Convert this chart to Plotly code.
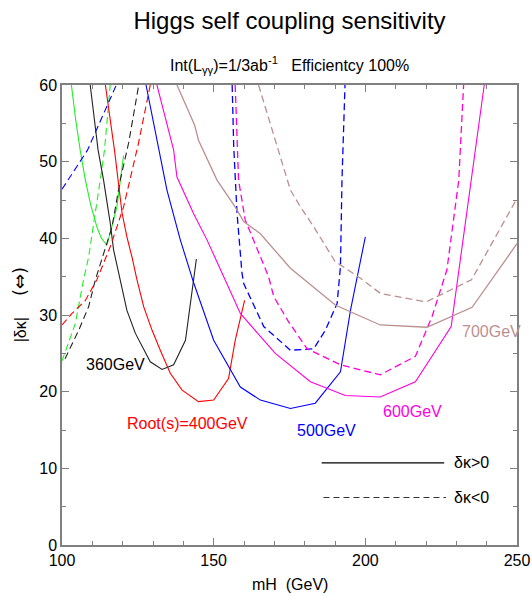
import plotly.graph_objects as go

# ---------------- data ----------------
# 300 GeV
mh_300_pos = [103.1, 104.5, 106.0, 107.7, 109.5, 111.5, 113.0, 114.8, 115.9, 118.1, 120.3]
dk_300_pos = [60.0, 55.5, 51.5, 47.6, 44.3, 41.5, 40.0, 39.1, 40.7, 44.1, 50.8]
mh_300_neg = [100.0, 104.4, 107.1, 108.8, 112.6, 114.0, 115.9]
dk_300_neg = [24.0, 28.9, 34.6, 37.6, 47.6, 51.5, 60.0]
# extra blue dashed branch at low mH
mh_blue_low = [100.0, 108.4, 117.9]
dk_blue_low = [46.4, 51.5, 60.0]
# 360 GeV
mh_360_pos = [109.3, 111.9, 113.7, 115.9, 117.0, 119.2, 121.4, 124.2, 126.5, 129.1, 133.0, 136.8, 140.7, 144.3]
dk_360_pos = [60.0, 51.5, 47.6, 42.0, 38.5, 34.6, 30.6, 27.6, 25.8, 23.9, 22.9, 23.5, 26.7, 37.3]
mh_360_neg = [101.0, 105.5, 108.8, 111.0, 116.5, 119.2, 122.0, 125.3]
dk_360_neg = [24.3, 28.0, 31.1, 34.6, 41.5, 47.6, 52.5, 60.0]
# 400 GeV
mh_400_pos = [114.3, 117.3, 119.8, 121.4, 123.1, 124.7, 127.0, 129.7, 132.4, 135.7, 139.6, 145.0, 150.0, 154.9, 157.1, 160.2]
dk_400_pos = [60.0, 51.5, 43.3, 40.2, 37.5, 34.6, 31.0, 28.0, 25.4, 22.4, 20.2, 18.7, 18.9, 21.7, 26.7, 31.9]
mh_400_neg = [100.0, 103.3, 107.7, 111.5, 116.0, 120.3, 125.1, 129.1]
dk_400_neg = [28.7, 30.2, 31.9, 34.6, 39.0, 44.1, 52.2, 60.0]
# 500 GeV
mh_500_pos = [127.7, 131.3, 134.6, 139.0, 143.4, 150.0, 158.8, 165.4, 175.3, 183.5, 191.8, 195.1, 200.0]
dk_500_pos = [60.0, 53.0, 46.3, 39.8, 34.2, 26.7, 20.6, 18.9, 17.8, 18.5, 22.6, 30.6, 40.2]
mh_500_neg = [156.1, 156.6, 157.7, 159.3, 159.9, 166.5, 175.3, 183.0, 186.8, 190.7, 191.8, 192.3, 193.3]
dk_500_neg = [60.0, 52.1, 43.3, 35.6, 34.1, 28.5, 25.4, 25.6, 28.0, 31.5, 36.3, 47.6, 60.0]
# 600 GeV
mh_600_pos = [131.3, 136.8, 137.9, 143.4, 147.8, 153.3, 158.8, 165.4, 170.3, 181.9, 193.4, 204.9, 216.5, 228.3, 239.2]
dk_600_pos = [60.0, 51.5, 48.0, 43.2, 39.8, 35.0, 30.2, 27.2, 25.0, 21.3, 19.5, 19.3, 21.3, 28.5, 60.0]
mh_600_neg = [157.1, 158.2, 160.4, 163.7, 168.1, 169.8, 174.7, 180.8, 191.8, 204.9, 216.5, 222.0, 226.9, 230.8, 232.4]
dk_600_neg = [60.0, 47.6, 42.4, 39.3, 35.0, 32.4, 29.1, 25.6, 23.5, 22.2, 24.6, 29.8, 35.9, 47.6, 60.0]
# 700 GeV
mh_700_pos = [137.9, 143.7, 145.0, 151.1, 157.1, 159.9, 165.4, 175.3, 190.1, 204.9, 220.3, 235.2, 250.0]
dk_700_pos = [60.0, 54.8, 52.8, 47.6, 44.1, 42.2, 40.6, 36.1, 31.3, 28.7, 28.4, 31.0, 39.3]
mh_700_neg = [164.8, 168.7, 172.0, 175.3, 178.6, 183.0, 190.0, 198.4, 205.0, 220.0, 235.0, 250.0]
dk_700_neg = [60.0, 55.0, 50.6, 46.3, 44.1, 41.5, 37.0, 34.8, 32.8, 31.7, 34.6, 45.2]

# legend sample lines
legend_pos_x = [185.6, 226.0]
legend_pos_y = [10.7, 10.7]
legend_neg_x = [186.2, 226.6]
legend_neg_y = [6.2, 6.2]

x_ticks = [100, 150, 200, 250]
y_ticks = [0, 10, 20, 30, 40, 50, 60]

GREEN = "#22ee22"
BLACK = "#000000"
RED = "#ff0000"
BLUE = "#0000ff"
MAGENTA = "#ff00dd"
BROWN = "#bc8f8f"
AXIS = "#808080"
DASH = "7px,4px"
FONT = "Liberation Sans, Arial, sans-serif"

fig = go.Figure()

def add(x, y, color, dash=None, width=1.1):
    fig.add_trace(go.Scatter(
        x=x, y=y, mode="lines",
        line=dict(color=color, width=width, dash=dash if dash else "solid"),
        showlegend=False, hoverinfo="skip"))

add(mh_300_pos, dk_300_pos, GREEN)
add(mh_300_neg, dk_300_neg, GREEN, DASH)
add(mh_blue_low, dk_blue_low, BLUE, DASH)
add(mh_360_pos, dk_360_pos, "#222222")
add(mh_360_neg, dk_360_neg, "#222222", DASH)
add(mh_400_pos, dk_400_pos, RED)
add(mh_400_neg, dk_400_neg, RED, DASH)
add(mh_500_pos, dk_500_pos, BLUE)
add(mh_500_neg, dk_500_neg, BLUE, DASH, 1.3)
add(mh_600_pos, dk_600_pos, MAGENTA)
add(mh_600_neg, dk_600_neg, MAGENTA, DASH, 1.3)
add(mh_700_pos, dk_700_pos, BROWN, None, 1.3)
add(mh_700_neg, dk_700_neg, BROWN, DASH, 1.3)
add(legend_pos_x, legend_pos_y, BLACK, None, 1.2)
add(legend_neg_x, legend_neg_y, "#333333", "6px,4px", 1.1)

ann = []
def label(text, x, y, color, anchor="center", size=16, xref="x", yref="y", angle=0,
          family=FONT):
    ann.append(dict(text=text, x=x, y=y, xref=xref, yref=yref, showarrow=False,
                    xanchor=anchor, yanchor="middle", textangle=angle,
                    font=dict(family=family, size=size, color=color)))

label("300GeV", 99.8, 42.6, "#00ff00")
label("360GeV", 117.8, 23.5, BLACK)
label("Root(s)=400GeV", 141.5, 15.9, RED)
label("500GeV", 187.1, 15.0, BLUE)
label("600GeV", 215.7, 17.4, MAGENTA)
label("700GeV", 231.3, 27.8, BROWN, anchor="left")
label("δκ&gt;0", 228.7, 10.7, BLACK, anchor="left")
label("δκ&lt;0", 228.7, 6.2, BLACK, anchor="left")

# subtitle
label("Int(L<sub>γγ</sub>)=1/3ab<sup>-1</sup>\u00a0\u00a0\u00a0Efficientcy 100%", 0.5, 1.0435,
      BLACK, xref="paper", yref="paper", size=16)
# axis titles
label("mH\u00a0\u00a0(GeV)", 0.501, -0.086, BLACK, xref="paper", yref="paper", size=16)
label("|δκ|", -0.092, 0.467, BLACK, xref="paper", yref="paper", size=16, angle=-90)
label("(⇔)", -0.092, 0.572, BLACK, xref="paper", yref="paper", size=18, angle=-90,
      family="DejaVu Sans, sans-serif")

fig.update_layout(
    template="none",
    width=532, height=596,
    margin=dict(l=62, r=15, t=85, b=51, pad=0),
    paper_bgcolor="white", plot_bgcolor="white",
    title=dict(text="Higgs self coupling sensitivity", x=0.5, xref="paper",
               y=1 - 21 / 596, yref="container", xanchor="center", yanchor="middle",
               font=dict(family=FONT, size=24, color=BLACK)),
    annotations=ann,
    xaxis=dict(range=[100, 250], tickvals=x_ticks, ticktext=[str(v) for v in x_ticks],
               automargin=False,
               ticks="inside", ticklen=7, tickwidth=1, tickcolor=AXIS,
               minor=dict(dtick=10, tick0=100, ticks="inside", ticklen=4, tickcolor=AXIS,
                          showgrid=False),
               showline=True, linecolor=AXIS, linewidth=1.5, mirror="ticks",
               showgrid=False, zeroline=False,
               tickfont=dict(family=FONT, size=16, color=BLACK)),
    yaxis=dict(range=[0, 60], tickvals=y_ticks, ticktext=[str(v) for v in y_ticks],
               automargin=False,
               ticks="inside", ticklen=7, tickwidth=1, tickcolor=AXIS,
               minor=dict(dtick=5, tick0=0, ticks="inside", ticklen=4, tickcolor=AXIS,
                          showgrid=False),
               showline=True, linecolor=AXIS, linewidth=1.5, mirror="ticks",
               showgrid=False, zeroline=False,
               tickfont=dict(family=FONT, size=16, color=BLACK)),
)

fig.write_html("out.html")
